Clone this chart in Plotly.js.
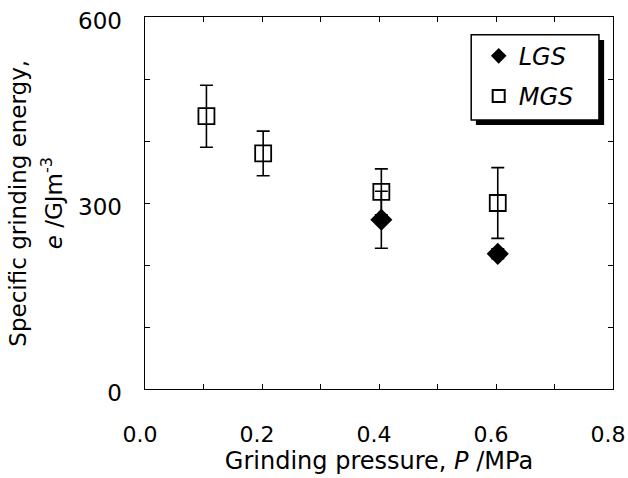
<!DOCTYPE html>
<html><head><meta charset="utf-8">
<script src="https://cdn.plot.ly/plotly-3.0.1.min.js"></script>
<style>body{margin:0;background:#fff}#c{width:628px;height:478px}</style>
</head><body><div id="c"></div>
<script>
const pressureMGS = [0.105, 0.202, 0.404, 0.603];
const energyMGS = [440, 380, 318, 300];
const errMGS = [50, 36, 37, 57];
const pressureLGS = [0.404, 0.603];
const energyLGS = [273, 218];
const errLGS = [46, 8];
const xTickVals = [0, 0.2, 0.4, 0.6, 0.8];
const xTickText = ['0.0', '0.2', '0.4', '0.6', '0.8'];
const yTickVals = [0, 300, 600];
const yTickText = ['0', '300', '600'];

const FAM = 'DejaVu Sans, sans-serif';
const font = {family: FAM, color: '#000'};
const traces = [
  {x: pressureLGS, y: energyLGS, name: '<i>LGS</i>', legendgroup: 'a', type: 'scatter', mode: 'markers',
   marker: {symbol: 'diamond', size: 17, color: '#000'},
   error_y: {type: 'data', array: errLGS, visible: true, color: '#000', thickness: 1.6, width: 6.5}},
  {x: pressureMGS, y: energyMGS, name: '<i>MGS</i>', legendgroup: 'b', type: 'scatter', mode: 'markers',
   marker: {symbol: 'square-open', size: 16, color: '#000', line: {width: 1.8}},
   error_y: {type: 'data', array: errMGS, visible: true, color: '#000', thickness: 1.6, width: 6.5}}
];
const layout = {
  width: 628, height: 478,
  margin: {l: 145, r: 15, t: 17, b: 89},
  paper_bgcolor: '#fff', plot_bgcolor: '#fff',
  font: font,
  showlegend: true,
  legend: {x: 0.713, y: 0.955, xanchor: 'left', yanchor: 'top', bgcolor: 'rgba(0,0,0,0)',
    borderwidth: 0, tracegroupgap: 6, font: {size: 24, family: FAM, color: '#000'},
    itemsizing: 'constant'},
  xaxis: {range: [0, 0.8], tickvals: xTickVals, ticktext: xTickText, ticks: 'inside', ticklen: 5,
    tickwidth: 1, tickcolor: '#000', showline: true, linecolor: '#000', linewidth: 1.4, mirror: 'ticks',
    minor: {dtick: 0.1, ticks: 'inside', ticklen: 5, tickwidth: 1, tickcolor: '#000', showgrid: false},
    showgrid: false, zeroline: false, ticklabelstandoff: 25, ticklabelshift: -5, ticklabeloverflow: 'allow',
    tickfont: {size: 22, color: '#000', family: FAM},
    title: {text: 'Grinding pressure, <i>P</i> /MPa', font: {size: 24, color: '#000', family: FAM}, standoff: 3}},
  yaxis: {range: [0, 600], tickvals: yTickVals, ticktext: yTickText, ticks: 'inside', ticklen: 5,
    tickwidth: 1, tickcolor: '#000', showline: true, linecolor: '#000', linewidth: 1.4, mirror: 'ticks',
    minor: {dtick: 100, ticks: 'inside', ticklen: 5, tickwidth: 1, tickcolor: '#000', showgrid: false},
    showgrid: false, zeroline: false, ticklabelstandoff: 17, ticklabelshift: 4, ticklabeloverflow: 'allow',
    tickfont: {size: 23, color: '#000', family: FAM}},
  annotations: [
    {text: 'Specific grinding energy,', xref: 'paper', yref: 'paper', x: -0.272, y: 0.5,
     xanchor: 'center', yanchor: 'middle', textangle: -90, showarrow: false,
     font: {size: 23, color: '#000', family: FAM}},
    {text: '<i>e</i> /GJm<sup>-3</sup>', xref: 'paper', yref: 'paper', x: -0.198, y: 0.5,
     xanchor: 'center', yanchor: 'middle', textangle: -90, showarrow: false,
     font: {size: 23, color: '#000', family: FAM}}
  ],
  shapes: [
    {type: 'rect', xref: 'paper', yref: 'paper', x0: 0.707, x1: 0.981, y0: 0.710, y1: 0.938,
     fillcolor: '#000', line: {width: 0}, layer: 'above'},
    {type: 'rect', xref: 'paper', yref: 'paper', x0: 0.697, x1: 0.970, y0: 0.723, y1: 0.952,
     fillcolor: '#fff', line: {width: 1.5, color: '#000'}, layer: 'above'}
  ]
};
Plotly.newPlot('c', traces, layout, {displayModeBar: false, staticPlot: true});
</script></body></html>
